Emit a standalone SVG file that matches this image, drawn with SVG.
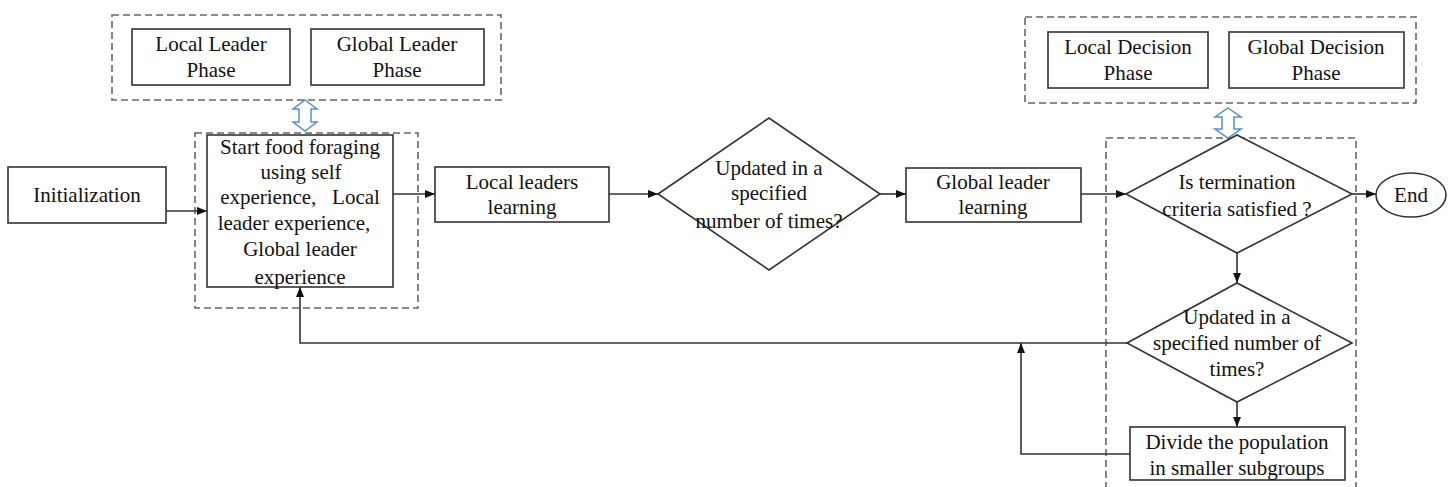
<svg xmlns="http://www.w3.org/2000/svg" width="1455" height="487" viewBox="0 0 1455 487">
<defs>
<marker id="ah" viewBox="0 0 10 8" refX="10" refY="4" markerWidth="10" markerHeight="8" markerUnits="userSpaceOnUse" orient="auto">
<path d="M0,0 L10,4 L0,8 Z" fill="#111"/>
</marker>
</defs>
<style>
.box{fill:#fff;stroke:#333;stroke-width:1.6}
.dash{fill:none;stroke:#666;stroke-width:1.6;stroke-dasharray:7,4}
.con{fill:none;stroke:#333;stroke-width:1.6}
.dbl{fill:#fff;stroke:#5b8cc8;stroke-width:1.5}
text{font-family:'Liberation Serif','Times New Roman',serif;font-size:21px;fill:#111;text-anchor:middle;dominant-baseline:central;white-space:pre}
</style>
<rect x="0" y="0" width="1455" height="487" fill="#fff"/>
<g id="groups">
<rect class="dash" x="112" y="15" width="389" height="85"/>
<rect class="dash" x="195" y="133" width="223" height="175"/>
<rect class="dash" x="1025" y="17" width="391" height="86"/>
<rect class="dash" x="1106" y="138" width="250" height="360"/>
</g>
<g id="connectors">
<path class="con" d="M166,211 H207" marker-end="url(#ah)"/>
<path class="con" d="M393,194 H435" marker-end="url(#ah)"/>
<path class="con" d="M609,194 H658" marker-end="url(#ah)"/>
<path class="con" d="M880,194 H906" marker-end="url(#ah)"/>
<path class="con" d="M1081,194 H1126" marker-end="url(#ah)"/>
<path class="con" d="M1352,194 H1376" marker-end="url(#ah)"/>
<path class="con" d="M1237,253 V283" marker-end="url(#ah)"/>
<path class="con" d="M1237,402 V427" marker-end="url(#ah)"/>
<path class="con" d="M1130,454 H1021 V343" marker-end="url(#ah)"/>
<path class="con" d="M1127,343 H300 V287" marker-end="url(#ah)"/>
<path class="dbl" d="M305,100 L317,109 L311,109 L311,122 L317,122 L305,131 L293,122 L299,122 L299,109 L293,109 Z"/>
<path class="dbl" d="M1228,108 L1241,117 L1234,117 L1234,129 L1241,129 L1228,138 L1215,129 L1222,129 L1222,117 L1215,117 Z"/>
</g>
<g id="init">
<rect class="box" x="8" y="167" width="158" height="56"/>
<text x="87" y="195">Initialization</text>
</g>
<g id="local-leader-phase">
<rect class="box" x="132" y="29" width="158" height="56"/>
<text x="211" y="44">Local Leader</text>
<text x="211" y="70">Phase</text>
</g>
<g id="global-leader-phase">
<rect class="box" x="311" y="29" width="173" height="56"/>
<text x="397" y="44">Global Leader</text>
<text x="397" y="70">Phase</text>
</g>
<g id="start">
<rect class="box" x="207" y="135" width="186" height="152"/>
<text x="300" y="147">Start food foraging</text>
<text x="301" y="172">using self</text>
<text x="300" y="197">experience,   Local</text>
<text x="294" y="223">leader experience,</text>
<text x="300" y="249">Global leader</text>
<text x="300" y="277">experience</text>
</g>
<g id="local-leaders">
<rect class="box" x="435" y="167" width="174" height="55"/>
<text x="522" y="182">Local leaders</text>
<text x="522" y="207">learning</text>
</g>
<g id="decision1">
<path class="box" d="M658,194 L769,118 L880,194 L769,270 Z"/>
<text x="769" y="168">Updated in a</text>
<text x="769" y="193">specified</text>
<text x="769" y="221">number of times?</text>
</g>
<g id="global-leader">
<rect class="box" x="906" y="168" width="175" height="54"/>
<text x="993" y="182">Global leader</text>
<text x="993" y="207">learning</text>
</g>
<g id="local-decision-phase">
<rect class="box" x="1048" y="32" width="160" height="56"/>
<text x="1128" y="47">Local Decision</text>
<text x="1128" y="73">Phase</text>
</g>
<g id="global-decision-phase">
<rect class="box" x="1229" y="32" width="175" height="56"/>
<text x="1316" y="47">Global Decision</text>
<text x="1316" y="73">Phase</text>
</g>
<g id="termination">
<path class="box" d="M1126,194 L1237,135 L1352,194 L1237,253 Z"/>
<text x="1237" y="182">Is termination</text>
<text x="1237" y="209">criteria satisfied ?</text>
</g>
<g id="end">
<ellipse class="box" cx="1411" cy="195" rx="35" ry="22"/>
<text x="1411" y="195">End</text>
</g>
<g id="decision2">
<path class="box" d="M1127,343 L1237,283 L1352,343 L1237,402 Z"/>
<text x="1237" y="317">Updated in a</text>
<text x="1237" y="343">specified number of</text>
<text x="1237" y="369">times?</text>
</g>
<g id="divide">
<rect class="box" x="1130" y="427" width="215" height="53"/>
<text x="1237" y="442">Divide the population</text>
<text x="1237" y="468">in smaller subgroups</text>
</g>
</svg>
